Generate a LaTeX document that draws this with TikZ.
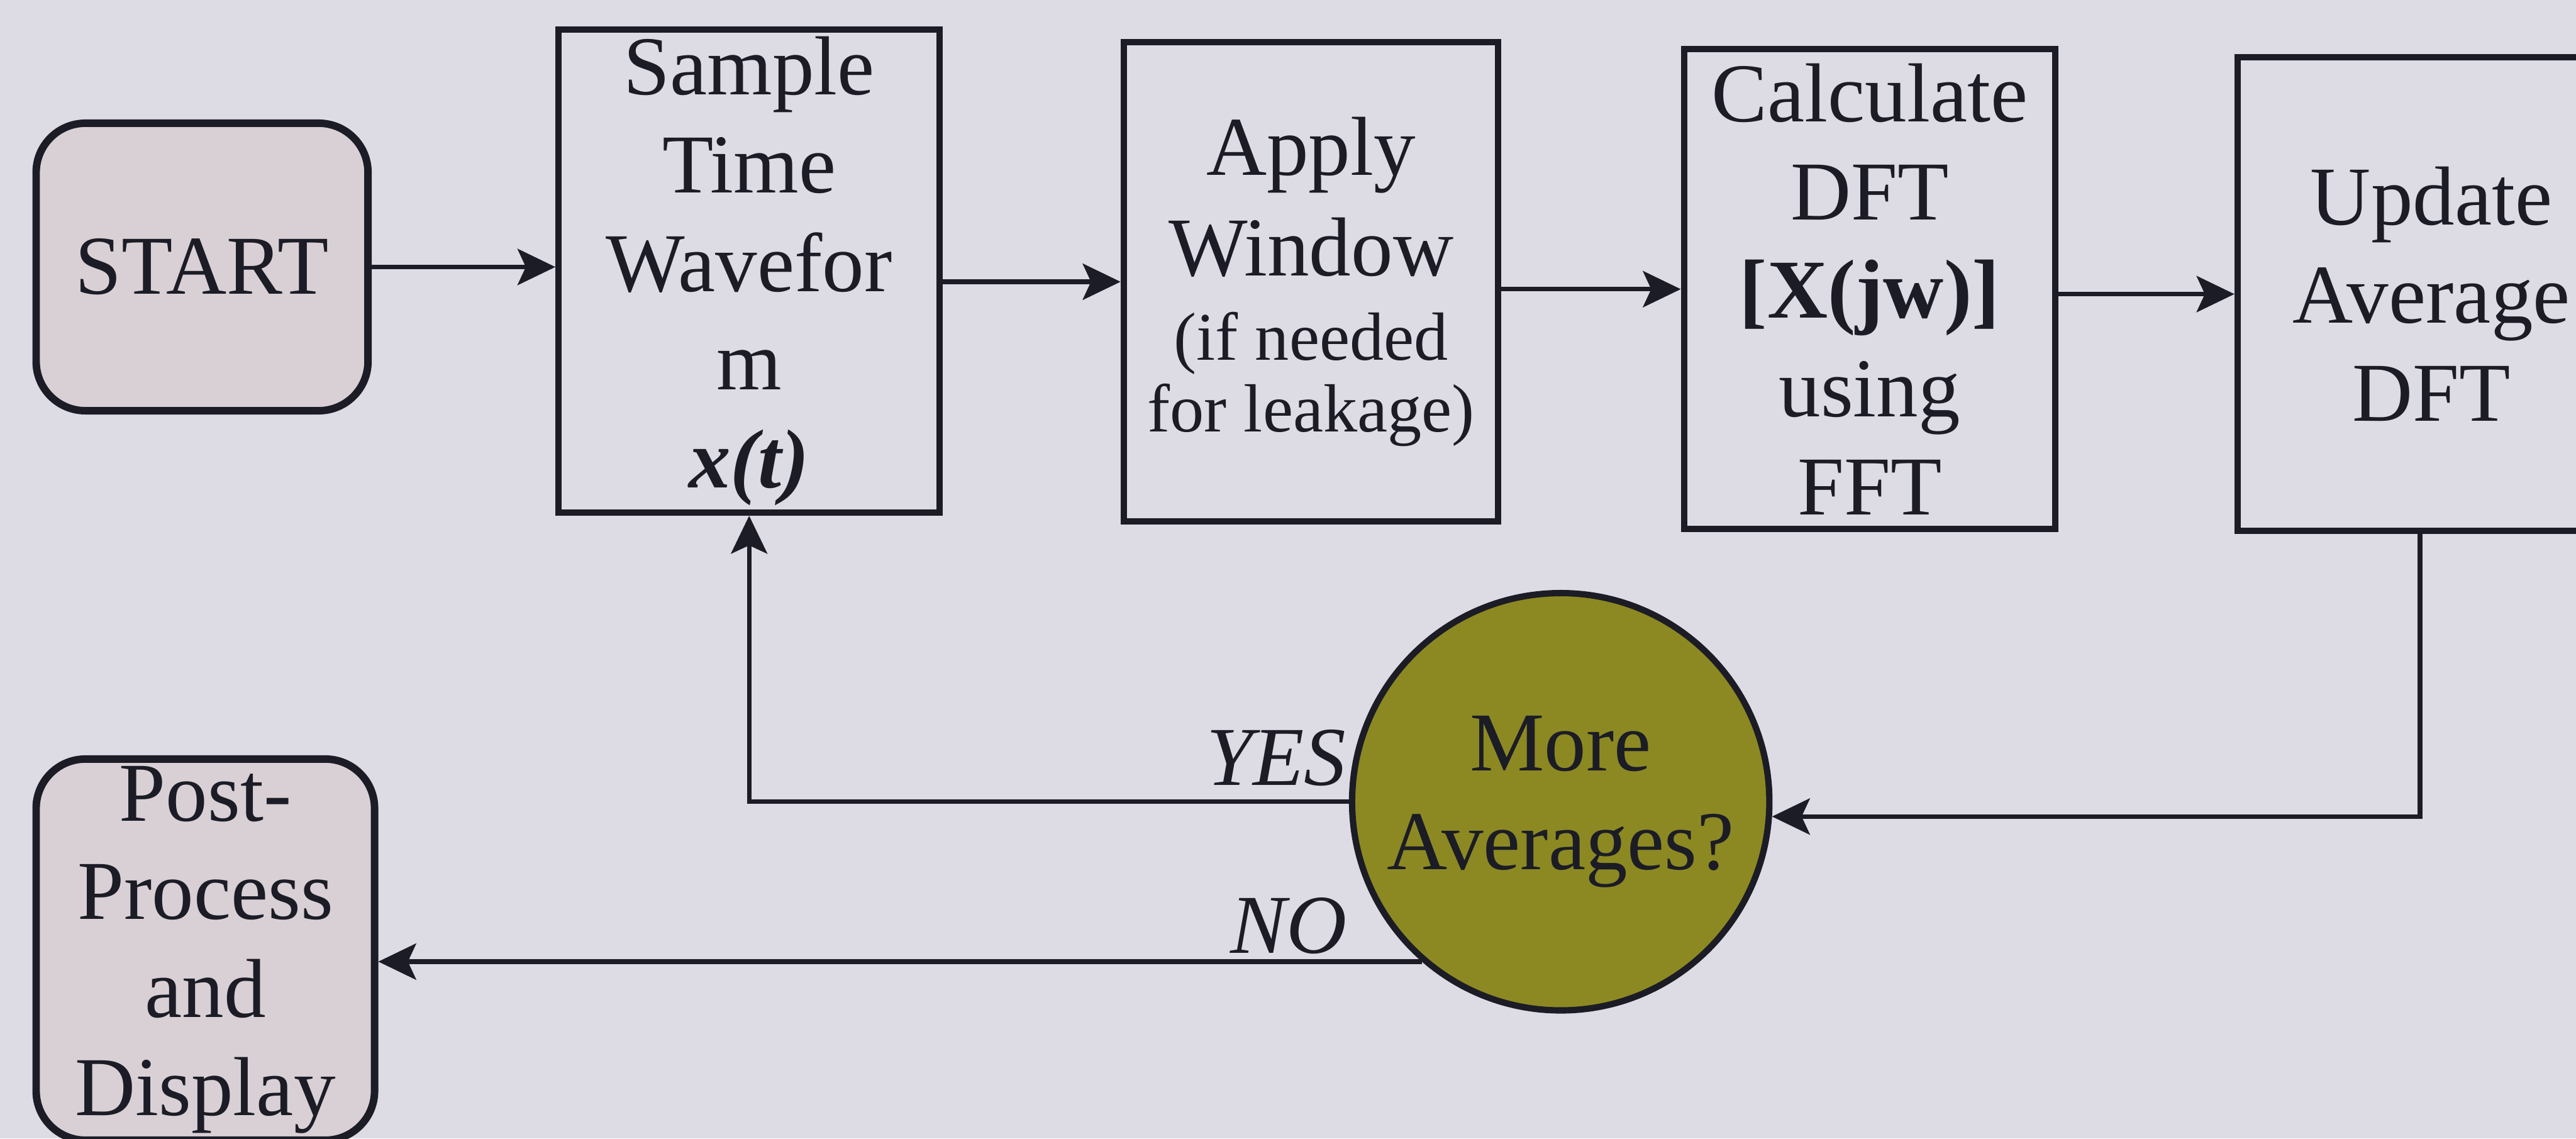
\documentclass[tikz,border=0pt]{standalone}
\usepackage{fontspec}
\setmainfont{Liberation Serif}
\usetikzlibrary{arrows.meta,calc,shapes,positioning}
\definecolor{paper}{RGB}{221,219,227}
\definecolor{termfill}{RGB}{216,208,213}
\definecolor{decfill}{RGB}{140,137,35}
\definecolor{ink}{RGB}{28,28,38}
\newcommand{\smallfnt}{\fontsize{11.8}{12.5}\selectfont}

\begin{document}
\begin{tikzpicture}[
    >={Stealth[length=2.3mm,width=2.2mm,inset=0.5mm]},
    every node/.style={font=\fontsize{14.5}{17}\selectfont, align=center, text=ink},
    term/.style={draw=ink, line width=1.3pt, fill=termfill, rounded corners=0.3cm, inner sep=0pt},
    proc/.style={draw=ink, line width=1.1pt, inner sep=0pt},
    dec/.style={circle, draw=ink, line width=1.1pt, fill=decfill, inner sep=0pt, minimum size=2.54cm},
    flow/.style={->, draw=ink, line width=0.8pt},
    tag/.style={font=\itshape\fontsize{14.5}{17}\selectfont, inner sep=0pt}
  ]
    %% Define constants
    \def\W{15.68}
    \def\H{6.93}
    \def\bh{2.92cm}
    %% Page
    \useasboundingbox[fill=paper] (0,0) rectangle (\W,-\H);
    \clip (0,0) rectangle (\W,-\H);
    %% Locate important points
    \coordinate (STO) at (1.23,-1.625);
    \coordinate (SWO) at (4.56,-1.65);
    \coordinate (AWO) at (7.98,-1.715);
    \coordinate (DFO) at (11.38,-1.76);
    \coordinate (UAO) at (14.80,-1.79);
    \coordinate (MAO) at (9.50,-4.88);
    \coordinate (PPO) at (1.25,-5.78);
    %% Draw blocks
    \node[term, minimum width=2.02cm, minimum height=1.75cm] (start) at (STO) {START};
    \node[proc, minimum width=2.32cm, minimum height=2.94cm] (sample) at (SWO)
      {Sample\\Time\\Wavefor\\m\\\textbf{\textit{x(t)}}};
    \node[proc, minimum width=2.28cm, minimum height=\bh] (apply) at (AWO)
      {Apply\\[0.5pt]Window\\[-2.5pt]{\smallfnt (if needed}\\[-4.5pt]{\smallfnt for leakage)}};
    \node[proc, minimum width=2.26cm, minimum height=\bh] (calc) at (DFO)
      {Calculate\\DFT\\\textbf{[X(jw)]}\\using\\FFT};
    \node[proc, minimum width=2.36cm, minimum height=2.88cm] (update) at (UAO)
      {Update\\Average\\DFT};
    \node[dec] (more) at (MAO) {More\\Averages?};
    \node[term, minimum width=2.06cm, minimum height=2.32cm] (post) at (PPO)
      {Post-\\Process\\and\\Display};
    %% Connect blocks
    \draw[flow] (start.east) -- (start.east -| sample.west);
    \draw[flow] (apply.west -| sample.east) -- (apply.west);
    \draw[flow] (calc.west -| apply.east) -- (calc.west);
    \draw[flow] (update.west -| calc.east) -- (update.west);
    \draw[flow] ($(update.south)+(-0.07,0)$) |- (more.-4);
    \draw[flow] (more.west) -| (sample.south);
    \draw[flow] (more.229) -- (more.229 -| post.east);
    % Branch labels
    \node[tag, anchor=base east] (yes) at ($(more.west)+(-0.01,0.10)$) {YES};
    \node[tag, anchor=base east] (no) at ($(more.229)+(-0.45,0.05)$) {NO};
  \end{tikzpicture}
\end{document}
